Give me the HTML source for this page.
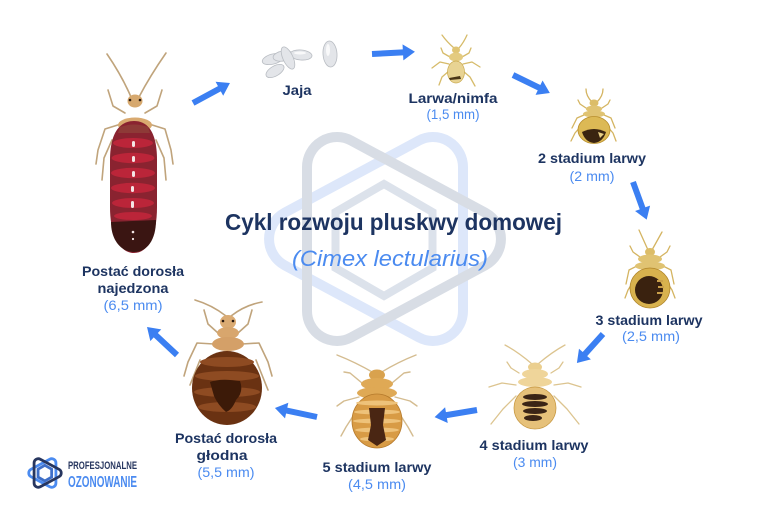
<!DOCTYPE html>
<html><head><meta charset="utf-8"><style>
html,body{margin:0;padding:0;background:#fff;}
svg{display:block;}
.lb{font-family:"Liberation Sans",sans-serif;font-weight:bold;font-size:14px;fill:#1d3461;}
.sz{font-family:"Liberation Sans",sans-serif;font-size:14px;fill:#4b8bf0;}
</style></head><body>
<svg width="768" height="525" viewBox="0 0 768 525" xmlns="http://www.w3.org/2000/svg">
<rect width="768" height="525" fill="#fff"/>

<!-- watermark -->
<g fill="none" stroke-width="10">
  <path transform="translate(770,0) scale(-1,1)" d="M307 167 A30 30 0 0 1 351.2 140.6 L485.2 212.6 A30 30 0 0 1 485.2 265.4 L351.2 337.4 A30 30 0 0 1 307 311 Z" stroke="#dde7fa"/>
  <path d="M307 167 A30 30 0 0 1 351.2 140.6 L485.2 212.6 A30 30 0 0 1 485.2 265.4 L351.2 337.4 A30 30 0 0 1 307 311 Z" stroke="#d8dde5"/>
  <polygon points="384,184 432.5,212 432.5,268 384,296 335.5,268 335.5,212" stroke="#dce2eb" stroke-width="8"/>
</g>

<!-- title -->
<text x="393.5" y="230" text-anchor="middle" font-family="Liberation Sans, sans-serif" font-weight="bold" font-size="23" fill="#1d3461" textLength="337" lengthAdjust="spacingAndGlyphs">Cykl rozwoju pluskwy domowej</text>
<text x="390" y="266" text-anchor="middle" font-family="Liberation Sans, sans-serif" font-style="italic" font-size="22" fill="#4b8bf0" textLength="196" lengthAdjust="spacingAndGlyphs">(Cimex lectularius)</text>

<!-- arrows -->
<g fill="#3b7ff2">
  <path transform="translate(193,103) rotate(-28.4)" d="M0 -3 L30 -3 L30 -8 L42 0 L30 8 L30 3 L0 3Z"/>
  <path transform="translate(372,54) rotate(-3)" d="M0 -3 L31 -3 L31 -8 L43 0 L31 8 L31 3 L0 3Z"/>
  <path transform="translate(513,75) rotate(26)" d="M0 -3 L29 -3 L29 -8 L41 0 L29 8 L29 3 L0 3Z"/>
  <path transform="translate(633,182) rotate(70)" d="M0 -3 L28 -3 L28 -8 L40 0 L28 8 L28 3 L0 3Z"/>
  <path transform="translate(603,334) rotate(132)" d="M0 -3 L27 -3 L27 -8 L39 0 L27 8 L27 3 L0 3Z"/>
  <path transform="translate(477,410) rotate(170.5)" d="M0 -3 L31 -3 L31 -8 L43 0 L31 8 L31 3 L0 3Z"/>
  <path transform="translate(317,417) rotate(192)" d="M0 -3 L31 -3 L31 -8 L43 0 L31 8 L31 3 L0 3Z"/>
  <path transform="translate(177,355) rotate(223)" d="M0 -3 L29 -3 L29 -8 L41 0 L29 8 L29 3 L0 3Z"/>
</g>

<!-- FED ADULT -->
<g stroke="#c0a47c" stroke-width="1.6" fill="none" stroke-linecap="round" stroke-linejoin="round">
  <path d="M131 97 Q122 76 107 54"/>
  <path d="M139 97 Q150 76 166 53"/>
  <path d="M125 113 L113 106 L108 90"/>
  <path d="M145 113 L157 106 L162 90"/>
  <path d="M121 124 L105 129 L98 150 L96 164"/>
  <path d="M149 124 L165 129 L171 150 L173 164"/>
  <path d="M112 140 L104 158 L102 180"/>
  <path d="M156 140 L164 158 L166 180"/>
</g>
<ellipse cx="135" cy="101" rx="7.5" ry="6.5" fill="#d6a86e"/>
<circle cx="130" cy="100" r="1.3" fill="#2a1a10"/><circle cx="140" cy="100" r="1.3" fill="#2a1a10"/>
<ellipse cx="135" cy="125" rx="17" ry="7.5" fill="#d9aa70"/>
<path d="M134 121 C119 121 110 134 110 160 L110 207 C110 236 120 253 134 253 C148 253 157 236 157 207 L157 160 C157 134 149 121 134 121Z" fill="#8a2330"/>
<path d="M120 127 Q134 122 148 127 L150 133 L118 133Z" fill="#8e3a37"/>
<g fill="#bb2539">
  <ellipse cx="133" cy="143" rx="20" ry="5"/>
  <ellipse cx="133" cy="158" rx="21.5" ry="5.2"/>
  <ellipse cx="133" cy="173" rx="22" ry="5.2"/>
  <ellipse cx="133" cy="188" rx="22" ry="5.2"/>
  <ellipse cx="133" cy="203" rx="21" ry="5"/>
  <ellipse cx="133" cy="216" rx="19" ry="4"/>
</g>
<path d="M111 222 L156 220 C156 240 147 252 134 252 C121 252 111 240 111 222Z" fill="#3a1512"/>
<g fill="#f4e6e6">
  <rect x="132" y="141" width="3" height="6" rx="1.5"/>
  <rect x="132" y="156" width="3" height="6" rx="1.5"/>
  <rect x="132" y="171" width="3" height="6" rx="1.5"/>
  <rect x="131" y="186" width="3" height="6" rx="1.5"/>
  <rect x="131" y="201" width="3" height="7" rx="1.5"/>
  <circle cx="133" cy="232" r="1.3"/><circle cx="133" cy="239" r="1.1"/>
</g>

<!-- HUNGRY ADULT -->
<g stroke="#c0a47c" stroke-width="1.6" fill="none" stroke-linecap="round" stroke-linejoin="round">
  <path d="M226 316 Q212 305 195 300"/>
  <path d="M231 316 Q245 305 262 302"/>
  <path d="M218 333 L208 324 L204 310"/>
  <path d="M238 333 L248 324 L252 310"/>
  <path d="M214 344 L197 343 L188 362 L184 376"/>
  <path d="M242 344 L259 343 L268 362 L272 376"/>
  <path d="M200 360 L190 385"/>
  <path d="M256 360 L268 390"/>
</g>
<ellipse cx="228" cy="322" rx="8" ry="7" fill="#dbab73"/>
<circle cx="223" cy="321" r="1.3" fill="#2a1a10"/><circle cx="233" cy="321" r="1.3" fill="#2a1a10"/>
<ellipse cx="228" cy="333" rx="11" ry="6" fill="#d8a66d"/>
<ellipse cx="228" cy="344" rx="16" ry="7" fill="#d4a068"/>
<ellipse cx="227" cy="388" rx="35" ry="37" fill="#6a3212"/>
<g fill="#8e4b22">
  <ellipse cx="227" cy="362" rx="27" ry="5"/>
  <ellipse cx="227" cy="376" rx="32" ry="5"/>
  <ellipse cx="227" cy="392" rx="33" ry="5"/>
  <ellipse cx="227" cy="407" rx="29" ry="5"/>
</g>
<path d="M210 382 Q220 378 240 381 Q244 392 236 400 Q232 410 226 412 Q218 405 214 396Z" fill="#3c1a08"/>

<!-- EGGS -->
<g fill="#e3e5e9" stroke="#b9bdc3" stroke-width="0.8">
  <ellipse cx="273" cy="59" rx="11" ry="5" transform="rotate(-15 273 59)"/>
  <ellipse cx="275" cy="71" rx="10" ry="5" transform="rotate(-30 275 71)"/>
  <ellipse cx="283" cy="56" rx="10" ry="5" transform="rotate(-10 283 56)"/>
  <ellipse cx="301" cy="55" rx="11" ry="5" transform="rotate(5 301 55)"/>
  <ellipse cx="288" cy="58" rx="5" ry="12" transform="rotate(-25 288 58)"/>
  <ellipse cx="330" cy="54" rx="7" ry="13" transform="rotate(-4 330 54)"/>
</g>
<g fill="#fff" opacity="0.8">
  <ellipse cx="328" cy="50" rx="2" ry="6"/>
  <ellipse cx="300" cy="53" rx="6" ry="1.5"/>
</g>

<!-- LARVA -->
<g stroke="#d6bb6a" stroke-width="1.3" fill="none" stroke-linecap="round" stroke-linejoin="round">
  <path d="M454 48 Q447 42 442 35"/>
  <path d="M459 48 Q464 42 467 35"/>
  <path d="M450 57 L443 53 L441 48"/>
  <path d="M462 57 L469 53 L471 48"/>
  <path d="M449 64 L440 62 L432 68"/>
  <path d="M463 64 L472 62 L480 67"/>
  <path d="M449 71 L442 77 L439 85"/>
  <path d="M463 71 L470 77 L475 86"/>
</g>
<ellipse cx="456" cy="50" rx="4" ry="3.5" fill="#e0c574"/>
<ellipse cx="456" cy="57" rx="7" ry="4.5" fill="#e4cb80"/>
<ellipse cx="456" cy="72" rx="8.5" ry="11" fill="#e8d393" stroke="#c9a94c" stroke-width="0.7"/>
<path d="M449 78 L460 76 L461 79 L450 80Z" fill="#4a3516"/>

<!-- STAGE 2 -->
<g stroke="#d4b461" stroke-width="1.3" fill="none" stroke-linecap="round" stroke-linejoin="round">
  <path d="M592 102 Q586 96 586 89"/>
  <path d="M597 102 Q603 96 603 89"/>
  <path d="M586 108 L580 104 L578 100"/>
  <path d="M602 108 L608 104 L610 100"/>
  <path d="M584 115 L577 118 L572 128"/>
  <path d="M604 115 L611 118 L615 128"/>
  <path d="M582 125 L575 133 L571 141"/>
  <path d="M606 125 L613 133 L616 141"/>
</g>
<ellipse cx="594" cy="103" rx="4.5" ry="3.5" fill="#dcbd68"/>
<ellipse cx="594" cy="109" rx="8" ry="3.5" fill="#e0c372"/>
<ellipse cx="594" cy="114" rx="11" ry="3.5" fill="#e0c372"/>
<ellipse cx="594" cy="130" rx="16" ry="13.5" fill="#dcb955" stroke="#b88e2c" stroke-width="0.8"/>
<path d="M582 132 Q594 126 606 132 Q603 142 594 143 Q585 142 582 132Z" fill="#3a2410"/>
<path d="M598 132 L604 134 L600 138Z" fill="#e8cf85"/>

<!-- STAGE 3 -->
<g stroke="#d4b461" stroke-width="1.3" fill="none" stroke-linecap="round" stroke-linejoin="round">
  <path d="M648 250 L639 230"/>
  <path d="M652 250 L662 232"/>
  <path d="M640 257 L633 252 L630 246"/>
  <path d="M660 257 L667 252 L670 246"/>
  <path d="M637 266 L629 270 L626 284"/>
  <path d="M663 266 L671 270 L674 284"/>
  <path d="M635 279 L628 290 L625 298"/>
  <path d="M665 279 L672 290 L675 298"/>
</g>
<ellipse cx="650" cy="252" rx="5" ry="4" fill="#dcbd68"/>
<ellipse cx="650" cy="259" rx="12" ry="4.5" fill="#e0c372"/>
<ellipse cx="650" cy="266" rx="15" ry="4.5" fill="#e0c372"/>
<ellipse cx="650" cy="288" rx="20" ry="20" fill="#d8b24e" stroke="#b0852a" stroke-width="0.8"/>
<ellipse cx="649" cy="290" rx="14" ry="14" fill="#3a220f"/>
<g fill="#caa04a"><rect x="657" y="280" width="6" height="2"/><rect x="658" y="286" width="6" height="2"/><rect x="657" y="292" width="6" height="2"/></g>

<!-- STAGE 4 -->
<g stroke="#dcc48f" stroke-width="1.3" fill="none" stroke-linecap="round" stroke-linejoin="round">
  <path d="M532 364 Q518 352 505 345"/>
  <path d="M538 364 Q552 352 565 345"/>
  <path d="M519 373 L511 368 L507 362"/>
  <path d="M551 373 L559 368 L563 362"/>
  <path d="M516 385 L502 383 L489 387"/>
  <path d="M554 385 L568 383 L581 387"/>
  <path d="M516 396 L503 409 L491 424"/>
  <path d="M554 396 L567 409 L579 424"/>
</g>
<ellipse cx="535" cy="367" rx="7" ry="4.5" fill="#ebcf8f"/>
<ellipse cx="535" cy="374" rx="13" ry="5" fill="#efd59a"/>
<ellipse cx="535" cy="382" rx="17" ry="5" fill="#efd59a"/>
<ellipse cx="535" cy="408" rx="21" ry="21" fill="#e6c17a" stroke="#c89a45" stroke-width="0.8"/>
<g fill="#3a2416">
  <ellipse cx="535" cy="397" rx="12" ry="3"/>
  <ellipse cx="535" cy="404" rx="13" ry="3"/>
  <ellipse cx="535" cy="411" rx="12" ry="3"/>
  <ellipse cx="533" cy="418" rx="9" ry="3"/>
</g>

<!-- STAGE 5 -->
<g stroke="#d4bc90" stroke-width="1.4" fill="none" stroke-linecap="round" stroke-linejoin="round">
  <path d="M374 373 Q355 362 337 355"/>
  <path d="M380 373 Q398 362 416 355"/>
  <path d="M362 383 L350 373 L344 372"/>
  <path d="M392 383 L404 373 L410 372"/>
  <path d="M359 397 L344 401 L337 406"/>
  <path d="M395 397 L410 401 L417 406"/>
  <path d="M357 410 L346 427 L341 436"/>
  <path d="M397 410 L408 427 L413 436"/>
</g>
<ellipse cx="377" cy="375" rx="8" ry="5.5" fill="#d9a24e"/>
<ellipse cx="377" cy="384" rx="16" ry="6" fill="#dfa955"/>
<ellipse cx="377" cy="393" rx="20" ry="6" fill="#dfa955"/>
<ellipse cx="377" cy="421" rx="25" ry="27" fill="#d89b45" stroke="#b57a2c" stroke-width="0.8"/>
<g fill="#eec27a">
  <ellipse cx="377" cy="403" rx="21" ry="2.5"/>
  <ellipse cx="377" cy="412" rx="23" ry="2.5"/>
  <ellipse cx="377" cy="421" rx="24" ry="2.5"/>
  <ellipse cx="377" cy="430" rx="22" ry="2.5"/>
  <ellipse cx="377" cy="439" rx="17" ry="2.5"/>
</g>
<path d="M369 408 L385 408 L383 425 L386 440 L377 446 L368 440 L371 425Z" fill="#4a2613"/>

<!-- labels -->
<text class="lb" x="133" y="276" text-anchor="middle" textLength="102" lengthAdjust="spacingAndGlyphs">Postać dorosła</text>
<text class="lb" x="133" y="293" text-anchor="middle" textLength="71" lengthAdjust="spacingAndGlyphs">najedzona</text>
<text class="sz" x="133" y="310" text-anchor="middle" textLength="59" lengthAdjust="spacingAndGlyphs">(6,5 mm)</text>

<text class="lb" x="297" y="95" text-anchor="middle" textLength="29" lengthAdjust="spacingAndGlyphs">Jaja</text>

<text class="lb" x="453" y="103" text-anchor="middle" textLength="89" lengthAdjust="spacingAndGlyphs">Larwa/nimfa</text>
<text class="sz" x="453" y="119" text-anchor="middle" textLength="53" lengthAdjust="spacingAndGlyphs">(1,5 mm)</text>

<text class="lb" x="592" y="163" text-anchor="middle" textLength="108" lengthAdjust="spacingAndGlyphs">2 stadium larwy</text>
<text class="sz" x="592" y="181" text-anchor="middle" textLength="45" lengthAdjust="spacingAndGlyphs">(2 mm)</text>

<text class="lb" x="649" y="325" text-anchor="middle" textLength="107" lengthAdjust="spacingAndGlyphs">3 stadium larwy</text>
<text class="sz" x="651" y="341" text-anchor="middle" textLength="58" lengthAdjust="spacingAndGlyphs">(2,5 mm)</text>

<text class="lb" x="534" y="450" text-anchor="middle" textLength="109" lengthAdjust="spacingAndGlyphs">4 stadium larwy</text>
<text class="sz" x="535" y="467" text-anchor="middle" textLength="44" lengthAdjust="spacingAndGlyphs">(3 mm)</text>

<text class="lb" x="377" y="472" text-anchor="middle" textLength="109" lengthAdjust="spacingAndGlyphs">5 stadium larwy</text>
<text class="sz" x="377" y="489" text-anchor="middle" textLength="58" lengthAdjust="spacingAndGlyphs">(4,5 mm)</text>

<text class="lb" x="226" y="443" text-anchor="middle" textLength="102" lengthAdjust="spacingAndGlyphs">Postać dorosła</text>
<text class="lb" x="222" y="460" text-anchor="middle" textLength="51" lengthAdjust="spacingAndGlyphs">głodna</text>
<text class="sz" x="226" y="477" text-anchor="middle" textLength="57" lengthAdjust="spacingAndGlyphs">(5,5 mm)</text>

<!-- logo -->
<g transform="translate(45,473) scale(0.14) translate(-385,-239)" fill="none" stroke-width="20">
  <path transform="translate(770,0) scale(-1,1)" d="M307 167 A30 30 0 0 1 351.2 140.6 L485.2 212.6 A30 30 0 0 1 485.2 265.4 L351.2 337.4 A30 30 0 0 1 307 311 Z" stroke="#4b8bf0"/>
  <path d="M307 167 A30 30 0 0 1 351.2 140.6 L485.2 212.6 A30 30 0 0 1 485.2 265.4 L351.2 337.4 A30 30 0 0 1 307 311 Z" stroke="#27365f"/>
  <polygon points="384,184 432.5,212 432.5,268 384,296 335.5,268 335.5,212" stroke="#3f6fc8" stroke-width="20"/>
</g>
<text x="68" y="469" font-family="Liberation Sans, sans-serif" font-weight="bold" font-size="11" fill="#27365f" textLength="69" lengthAdjust="spacingAndGlyphs">PROFESJONALNE</text>
<text x="68" y="487" font-family="Liberation Sans, sans-serif" font-weight="bold" font-size="16" fill="#4b8bf0" textLength="69" lengthAdjust="spacingAndGlyphs">OZONOWANIE</text>
</svg>
</body></html>
